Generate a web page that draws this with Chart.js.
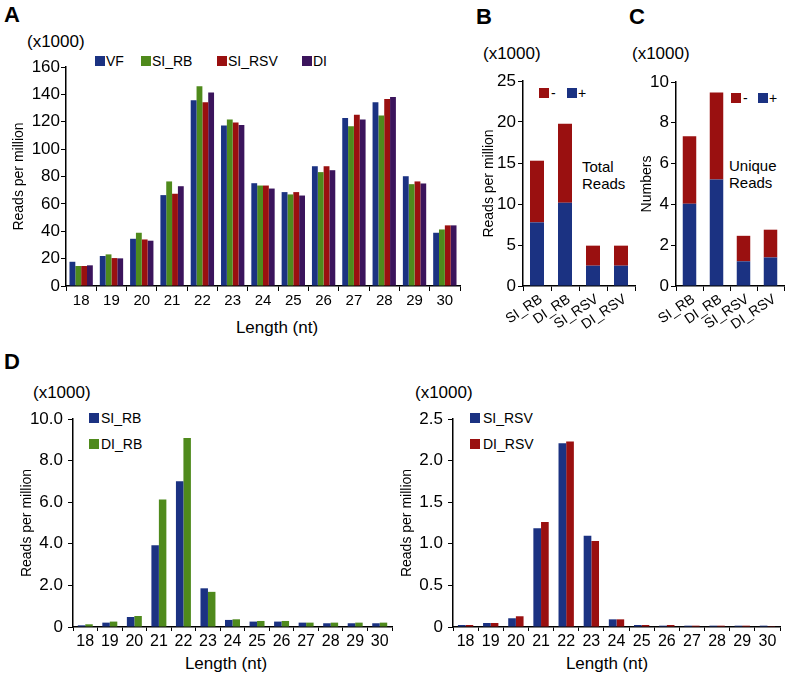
<!DOCTYPE html>
<html><head><meta charset="utf-8">
<script src="https://cdn.jsdelivr.net/npm/chart.js@4/dist/chart.umd.min.js"></script>
<style>
html,body{margin:0;padding:0;background:#fff;}
body{width:787px;height:679px;position:relative;overflow:hidden;font-family:"Liberation Sans",Arial,sans-serif;color:#000;}
canvas{position:absolute;}
.t{position:absolute;white-space:nowrap;line-height:1;}
.lbl{font-weight:bold;font-size:22px;}
.unit{font-size:17px;}
.lg{font-size:14px;}
.note{font-size:15px;line-height:17px;}
.xt{position:absolute;white-space:nowrap;line-height:1;font-size:17px;width:200px;text-align:center;}
.box{position:absolute;width:10px;height:10px;}
</style></head><body>
<div class="t lbl" style="left:4px;top:4px;">A</div>
<div class="t lbl" style="left:476px;top:6px;">B</div>
<div class="t lbl" style="left:629px;top:6px;">C</div>
<div class="t lbl" style="left:4px;top:351px;">D</div>
<div class="t unit" style="left:27px;top:33px;">(x1000)</div>
<div class="t unit" style="left:483px;top:45px;">(x1000)</div>
<div class="t unit" style="left:632px;top:45px;">(x1000)</div>
<div class="t unit" style="left:33px;top:384px;">(x1000)</div>
<div class="t unit" style="left:415px;top:384px;">(x1000)</div>

<!-- x-axis titles -->
<div class="xt" style="left:177px;top:319px;">Length (nt)</div>
<div class="xt" style="left:126px;top:655px;">Length (nt)</div>
<div class="xt" style="left:507px;top:655px;">Length (nt)</div>

<!-- legend A -->
<div class="box" style="left:95px;top:56px;background:#1b3282"></div><div class="t lg" style="left:106px;top:54px;">VF</div>
<div class="box" style="left:141px;top:56px;background:#4f8a1c"></div><div class="t lg" style="left:152px;top:54px;">SI_RB</div>
<div class="box" style="left:217px;top:56px;background:#9a1010"></div><div class="t lg" style="left:228px;top:54px;">SI_RSV</div>
<div class="box" style="left:302px;top:56px;background:#3b145c"></div><div class="t lg" style="left:313px;top:54px;">DI</div>
<!-- legend B -->
<div class="box" style="left:539px;top:88px;background:#9a1010"></div><div class="t lg" style="left:551px;top:86px;">-</div>
<div class="box" style="left:567px;top:88px;background:#1b3282"></div><div class="t lg" style="left:578px;top:86px;">+</div>
<div class="t note" style="left:582px;top:158px;">Total<br>Reads</div>
<!-- legend C -->
<div class="box" style="left:731px;top:93px;background:#9a1010"></div><div class="t lg" style="left:743px;top:91px;">-</div>
<div class="box" style="left:758px;top:93px;background:#1b3282"></div><div class="t lg" style="left:769px;top:91px;">+</div>
<div class="t note" style="left:729px;top:157px;">Unique<br>Reads</div>
<!-- legend D -->
<div class="box" style="left:89px;top:413px;background:#1b3282"></div><div class="t lg" style="left:101px;top:411px;">SI_RB</div>
<div class="box" style="left:89px;top:439px;background:#4f8a1c"></div><div class="t lg" style="left:101px;top:437px;">DI_RB</div>
<div class="box" style="left:470px;top:413px;background:#1b3282"></div><div class="t lg" style="left:483px;top:411px;">SI_RSV</div>
<div class="box" style="left:470px;top:439px;background:#9a1010"></div><div class="t lg" style="left:483px;top:437px;">DI_RSV</div>

<script>
// ---------- data ----------
const lengths = ['18','19','20','21','22','23','24','25','26','27','28','29','30'];
const vfA    = [17.7, 21.9, 34.5, 66.4, 135.7, 117.2, 75.1, 68.6, 87.5, 122.8, 134.2, 80.2, 38.9];
const siRbA  = [14.6, 23.1, 38.9, 76.4, 145.9, 121.6, 73.4, 66.9, 83.2, 116.7, 124.5, 74.4, 41.3];
const siRsvA = [14.6, 20.4, 34.0, 67.4, 134.2, 119.4, 73.4, 68.6, 87.5, 125.2, 136.7, 76.4, 44.3];
const diA    = [15.1, 20.2, 33.1, 72.9, 141.3, 117.7, 71.2, 66.1, 84.6, 121.6, 138.1, 74.9, 44.3];

const libraries   = ['SI_RB','DI_RB','SI_RSV','DI_RSV'];
const totalPlus   = [7.76, 10.16, 2.48, 2.48];
const totalMinus  = [7.52, 9.64, 2.44, 2.44];
const uniquePlus  = [4.03, 5.22, 1.21, 1.40];
const uniqueMinus = [3.31, 4.26, 1.25, 1.36];

const siRbD  = [0.08, 0.21, 0.48, 3.93, 7.01, 1.86, 0.34, 0.26, 0.26, 0.21, 0.18, 0.18, 0.18];
const diRbD  = [0.13, 0.26, 0.53, 6.13, 9.09, 1.69, 0.37, 0.29, 0.29, 0.21, 0.21, 0.21, 0.21];
const siRsvD = [0.024, 0.048, 0.105, 1.186, 2.21, 1.097, 0.092, 0.024, 0.016, 0.016, 0.016, 0.016, 0.016];
const diRsvD = [0.024, 0.048, 0.129, 1.262, 2.23, 1.033, 0.092, 0.024, 0.024, 0.016, 0.016, 0.016, 0.010];

// ---------- styles ----------
const BLUE = '#1b3282', GREEN = '#4f8a1c', RED = '#9a1010', PURPLE = '#3b145c';
const FAM = '"Liberation Sans", Arial, sans-serif';

function makeCanvas(left, top, w, h) {
  const c = document.createElement('canvas');
  c.width = w; c.height = h;
  c.style.left = left + 'px'; c.style.top = top + 'px';
  c.style.width = w + 'px'; c.style.height = h + 'px';
  document.body.appendChild(c);
  return c;
}

function barChart(o) {
  const c = makeCanvas(o.left, o.top, o.w, o.h);
  const rot = o.rotation || 0;
  return new Chart(c.getContext('2d'), {
    type: 'bar',
    data: { labels: o.labels, datasets: o.datasets },
    options: {
      responsive: false, animation: false, devicePixelRatio: 1,
      layout: { padding: o.padding },
      plugins: { legend: { display: false }, tooltip: { enabled: false } },
      datasets: { bar: { categoryPercentage: o.catPct, barPercentage: 1.0, borderWidth: 0 } },
      scales: {
        x: {
          type: 'category', stacked: !!o.stacked, offset: true,
          grid: { offset: true, drawOnChartArea: false, drawTicks: true, tickLength: o.xTick, color: '#000', lineWidth: 1 },
          border: { display: true, color: '#000', width: 1.5 },
          ticks: { color: '#000', font: { family: FAM, size: o.xFont, lineHeight: 1.2 }, padding: o.xPad,
                   autoSkip: false, minRotation: rot, maxRotation: rot, labelOffset: o.labelOffset || 0 },
          title: { display: false },
          afterFit: s => { s.height = o.xHeight; }
        },
        y: {
          stacked: !!o.stacked, min: 0, max: o.yMax,
          grid: { drawOnChartArea: false, drawTicks: true, tickLength: 5, color: '#000', lineWidth: 1 },
          border: { display: true, color: '#000', width: 1.5 },
          ticks: { stepSize: o.yStep, color: '#000', font: { family: FAM, size: 17, lineHeight: 1.2 },
                   padding: o.yPad, callback: o.yFmt },
          title: { display: true, text: o.yTitle, color: '#000',
                   font: { family: FAM, size: 14, lineHeight: 1.2 }, padding: { top: o.yTitlePad, bottom: 0 } },
          afterFit: s => { s.width = o.yWidth; }
        }
      }
    }
  });
}

const intFmt = v => String(Math.round(v));
const dec1 = v => (Math.abs(v) < 1e-9 ? '0' : v.toFixed(1));

// Panel A
barChart({
  left: 0, top: 0, w: 470, h: 345,
  padding: { left: 0, top: 67, right: 10, bottom: 0 },
  labels: lengths,
  datasets: [
    { label: 'VF', data: vfA, backgroundColor: BLUE },
    { label: 'SI_RB', data: siRbA, backgroundColor: GREEN },
    { label: 'SI_RSV', data: siRsvA, backgroundColor: RED },
    { label: 'DI', data: diA, backgroundColor: PURPLE }
  ],
  catPct: 0.77, xFont: 15, xTick: 5, xPad: 1, xHeight: 59,
  yMax: 160, yStep: 20, yFmt: intFmt, yPad: 1, yTitle: 'Reads per million', yTitlePad: 10.5, yWidth: 66
});

// Panel B
barChart({
  left: 470, top: 60, w: 170, h: 290,
  padding: { left: 0, top: 21, right: 5, bottom: 0 },
  labels: libraries, stacked: true,
  datasets: [
    { label: '+', data: totalPlus, backgroundColor: BLUE },
    { label: '-', data: totalMinus, backgroundColor: RED }
  ],
  catPct: 0.5, xFont: 14, xTick: 5, xPad: 0, rotation: 34, labelOffset: 4, xHeight: 64,
  yMax: 25, yStep: 5, yFmt: intFmt, yPad: 2, yTitle: 'Reads per million', yTitlePad: 10.5, yWidth: 53
});

// Panel C
barChart({
  left: 630, top: 60, w: 157, h: 290,
  padding: { left: 0, top: 22, right: 3, bottom: 0 },
  labels: libraries, stacked: true,
  datasets: [
    { label: '+', data: uniquePlus, backgroundColor: BLUE },
    { label: '-', data: uniqueMinus, backgroundColor: RED }
  ],
  catPct: 0.5, xFont: 14, xTick: 5, xPad: 0, rotation: 34, labelOffset: 4, xHeight: 64,
  yMax: 10, yStep: 2, yFmt: intFmt, yPad: 2, yTitle: 'Numbers', yTitlePad: 8.5, yWidth: 46
});

// Panel D left
barChart({
  left: 0, top: 380, w: 400, h: 299,
  padding: { left: 0, top: 39, right: 8, bottom: 0 },
  labels: lengths,
  datasets: [
    { label: 'SI_RB', data: siRbD, backgroundColor: BLUE },
    { label: 'DI_RB', data: diRbD, backgroundColor: GREEN }
  ],
  catPct: 0.61, xFont: 16, xTick: 4, xPad: 1, xHeight: 52,
  yMax: 10, yStep: 2, yFmt: dec1, yPad: 5, yTitle: 'Reads per million', yTitlePad: 18.5, yWidth: 73
});

// Panel D right
barChart({
  left: 390, top: 380, w: 397, h: 299,
  padding: { left: 0, top: 39, right: 7, bottom: 0 },
  labels: lengths,
  datasets: [
    { label: 'SI_RSV', data: siRsvD, backgroundColor: BLUE },
    { label: 'DI_RSV', data: diRsvD, backgroundColor: RED }
  ],
  catPct: 0.61, xFont: 16, xTick: 4, xPad: 1, xHeight: 52,
  yMax: 2.5, yStep: 0.5, yFmt: dec1, yPad: 5, yTitle: 'Reads per million', yTitlePad: 8.5, yWidth: 63
});
</script>
</body></html>
